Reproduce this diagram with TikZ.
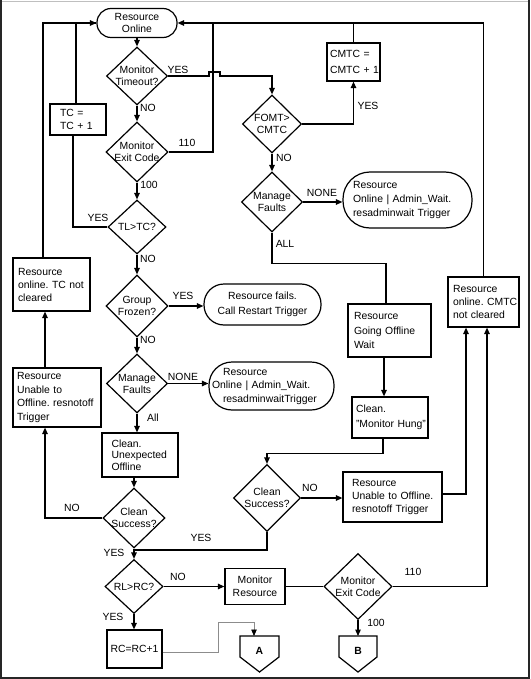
\documentclass[tikz,border=0pt]{standalone}
\usepackage{fontspec}
\setmainfont{Liberation Sans}
\usetikzlibrary{shapes.geometric,arrows.meta}
\begin{document}
\hyphenpenalty=10000 \exhyphenpenalty=10000 \frenchspacing
\begin{tikzpicture}[x=1pt,y=-1pt,
  every node/.style={font=\fontsize{10.4}{13.5}\selectfont, inner sep=0pt},
  ln/.style={line width=1.2pt},
  arr/.style={line width=1.2pt,-{Triangle[length=6.5pt,width=5.5pt]}},
  box/.style={draw,line width=1.2pt,rectangle,align=left,inner ysep=0pt},
  cbox/.style={draw,line width=1.2pt,rectangle,align=center,inner sep=0pt},
  term/.style={draw,line width=1.2pt,rectangle,inner ysep=0pt},
  dia/.style={draw,line width=1.2pt,diamond,inner sep=0pt},
  dt/.style={align=center,font=\fontsize{10.4}{12}\selectfont},
  lab/.style={font=\fontsize{10.4}{12}\selectfont},
  pent/.style={line width=1.2pt},
  fs/.style={font=\fontsize{10.4}{#1}\selectfont},
]
\useasboundingbox (0,0) rectangle (530,679);
% frame
\draw[black!25,line width=0.8pt] (0,1) -- (530,1);
\draw[black!85,line width=2pt] (1,0) -- (1,678.5);
\draw[black!85,line width=2pt] (0,677.5) -- (530,677.5);
\draw[black!85,line width=2pt] (528.5,0) -- (528.5,678.5);

% ---------- main column ----------
\node[term,align=center,inner xsep=0pt,minimum width=80pt,minimum height=29pt,rounded corners=14pt,fs=12] (ro) at (137,23) {Resource\\Online};
\node[dia,minimum width=61pt,minimum height=58pt] (mt) at (137,76) {};
\node[dt] (mt-t) at (mt) {Monitor\\Timeout?};
\node[dia,minimum width=62pt,minimum height=60pt] (mec) at (137,152) {};
\node[dt] (mec-t) at (mec) {Monitor\\Exit Code};
\node[dia,minimum width=58pt,minimum height=54pt] (tl) at (137,227) {};
\node[dt] (tl-t) at (tl) {TL>TC?};
\node[dia,minimum width=62pt,minimum height=62pt] (gf) at (137,306) {};
\node[dt] (gf-t) at (gf) {Group\\Frozen?};
\node[dia,minimum width=61pt,minimum height=59pt] (mf1) at (137,383.5) {};
\node[dt] (mf1-t) at (mf1) {Manage\\Faults};
\node[box,text width=57pt,inner xsep=9.5pt,minimum height=44pt,fs=11.5] (cuo) at (140,455) {Clean.\\Unexpected\\Offline};
\node[dia,minimum width=62pt,minimum height=60pt] (cs1) at (134,518) {};
\node[dt] (cs1-t) at (cs1) {Clean\\Success?};
\node[dia,minimum width=58pt,minimum height=54pt] (rlrc) at (134,586.5) {};
\node[dt] (rlrc-t) at (rlrc) {RL>RC?};
\node[cbox,minimum width=55pt,minimum height=38pt] (rc) at (134.5,649) {RC=RC+1};
\node[cbox,minimum width=60pt,minimum height=36pt,fs=13] (mr) at (255,586.5) {Monitor\\Resource};
\node[dia,minimum width=68pt,minimum height=66pt] (mec2) at (358,586.5) {};
\node[dt] (mec2-t) at (mec2) {Monitor\\Exit Code};

% off-page connectors
\draw[pent] (240,636) -- (279,636) -- (279,657) -- (259.5,672) -- (240,657) -- cycle;
\node[font=\bfseries\fontsize{10.4}{12}\selectfont] (A) at (259.5,651) {A};
\coordinate (Atop) at (254,636);
\draw[pent] (339,636) -- (377,636) -- (377,657) -- (358,672) -- (339,657) -- cycle;
\node[font=\bfseries\fontsize{10.4}{12}\selectfont] (B) at (358,651) {B};
\coordinate (Btop) at (358,636);

% ---------- left boxes ----------
\node[box,text width=36pt,inner xsep=10pt,minimum height=31pt,fs=13] (tc) at (78,119.5) {\mbox{TC =}\\\mbox{TC + 1}};
\node[box,text width=67pt,inner xsep=5pt,minimum height=53pt,fs=13] (rotc) at (51.5,284.5) {Resource\\\mbox{online. TC not}\\cleared};
\node[box,text width=80pt,inner xsep=4pt,minimum height=59pt,fs=13.5] (ruo1) at (57,397.5) {Resource\\\mbox{Unable to}\\\mbox{Offline. resnotoff}\\Trigger};

% ---------- right side ----------
\node[dia,minimum width=59pt,minimum height=58pt] (fomt) at (272,124) {};
\node[dt] (fomt-t) at (fomt) {FOMT>\\CMTC};
\node[box,text width=47pt,inner xsep=3pt,minimum height=38pt,fs=13] (cmtc) at (353.5,62) {\mbox{CMTC =}\\[3pt]\mbox{CMTC + 1}};
\node[dia,minimum width=61pt,minimum height=60pt] (mf2) at (272,202) {};
\node[dt] (mf2-t) at (mf2) {Manage\\Faults};
\node[term,align=left,text width=109pt,inner xsep=10pt,minimum height=56pt,rounded corners=27pt,fs=14] (term2) at (407.5,200) {Resource\\\mbox{Online | Admin\_Wait.}\\\mbox{resadminwait Trigger}};
\node[term,align=center,minimum width=117pt,minimum height=41pt,rounded corners=20pt,fs=15] (rf) at (262.5,304.5) {Resource fails.\\Call Restart Trigger};
\node[term,align=left,text width=119pt,inner xsep=3pt,minimum height=48pt,rounded corners=23pt,fs=13.5] (term3) at (271.5,386) {\hspace*{11pt}Resource\\\mbox{Online | Admin\_Wait.}\\\hspace*{11pt}resadminwaitTrigger};
\node[box,text width=71pt,inner xsep=6pt,minimum height=53pt,fs=14.5] (rgow) at (389.5,330.5) {Resource\\\mbox{Going Offline}\\Wait};
\node[box,text width=68pt,inner xsep=4pt,minimum height=41pt,fs=15] (cmh) at (390,417.5) {Clean.\\\mbox{"Monitor Hung"}};
\node[dia,minimum width=67pt,minimum height=67pt] (cs2) at (267,498) {};
\node[dt] (cs2-t) at (cs2) {Clean\\Success?};
\node[box,text width=81pt,inner xsep=9pt,minimum height=50pt,fs=13] (ruo2) at (392.5,497) {Resource\\\mbox{Unable to Offline.}\\\mbox{resnotoff Trigger}};
\node[box,text width=61pt,inner xsep=5pt,minimum height=50pt,fs=13] (cmtcnc) at (483.5,302) {Resource\\\mbox{online. CMTC}\\\mbox{not cleared}};

% junction coordinates
\coordinate (j110) at (213,23);
\coordinate (jyes) at (134,550);

% ---------- connectors ----------
\draw[arr] (ro.south) -- (mt.north);
\draw[arr] (mt.south) -- (mec.north);
\draw[arr] (mec.south) -- (tl.north);
\draw[arr] (tl.south) -- (gf.north);
\draw[arr] (gf.south) -- (mf1.north);
\draw[arr] (mf1.south) -- (mf1.south |- cuo.north);
\draw[arr] (cs1.north |- cuo.south) -- (cs1.north);
\draw[arr] (cs1.south) -- (rlrc.north);
\draw[arr] (rlrc.south) -- (rlrc.south |- rc.north);
\draw[arr] (rlrc.east) -- (mr.west);
\draw[ln] (mr.east) -- (mec2.west);
\draw[arr] (mec2.south) -- (Btop);
\draw[arr] (mec2.east) -| ([xshift=3.5pt]cmtcnc.south);
\draw[line width=0.8pt,black!45,-{Triangle[length=6.5pt,width=5.5pt,black]}] ([yshift=-3pt]rc.east) -- (218,652) -- (218,622) -| (Atop);

\draw[arr] (cs1.west) -| ([xshift=-12pt]ruo1.south);
\draw[arr] ([xshift=-12pt]ruo1.north) -- ([xshift=-6.5pt]rotc.south);
\draw[arr] ([xshift=-8.5pt]rotc.north) |- (ro.west);
\draw[ln] (tl.west) -| ([xshift=-5pt]tc.south);
\draw[ln] ([xshift=-2pt]tc.north) |- (ro.west);

\draw[ln] (mec.east) -| (j110);
\draw[arr] (cmtcnc.north) |- (ro.east);
\draw[ln] (cmtc.north) -- (cmtc.north |- ro.east);
\draw[arr] (mt.east) -- (209,76) -- (209,72) -- (220,72) -- (220,76) -| (fomt.north);
\draw[arr] (fomt.east) -| (cmtc.south);
\draw[arr] (fomt.south) -- (mf2.north);
\draw[arr] (mf2.east) -- (mf2.east -| term2.west);
\draw[ln] (mf2.south) -- ++(0,31) -| ([xshift=-3.5pt]rgow.north);
\draw[arr] ([xshift=-5.5pt]rgow.south) -- ([xshift=-6pt]cmh.north);
\draw[arr] ([xshift=-7pt]cmh.south) -- ++(0,15) -| (cs2.north);
\draw[arr] (cs2.east) -- (cs2.east -| ruo2.west);
\draw[arr] ([yshift=3pt]ruo2.east) -| ([xshift=-17.5pt]cmtcnc.south);
\draw[ln] (cs2.south) |- (jyes);
\draw[arr] (gf.east) -- (gf.east -| rf.west);
\draw[arr] (mf1.east) -- (mf1.east -| term3.west);

% ---------- connector labels ----------
\node[lab] (l-mt-yes) at (178,70) {YES};
\node[lab] (l-mt-no) at (148,108) {NO};
\node[lab] (l-mec-110) at (187,143) {110};
\node[lab] (l-mec-100) at (149,185) {100};
\node[lab] (l-tl-yes) at (98,218) {YES};
\node[lab] (l-tl-no) at (148,259) {NO};
\node[lab] (l-gf-yes) at (183,296) {YES};
\node[lab] (l-gf-no) at (148,340) {NO};
\node[lab] (l-mf1-none) at (183,377) {NONE};
\node[lab] (l-mf1-all) at (153,418) {All};
\node[lab] (l-cs1-no) at (72,508) {NO};
\node[lab] (l-cs1-yes) at (114,553) {YES};
\node[lab] (l-cs2-yes) at (201,538) {YES};
\node[lab] (l-rl-no) at (178,577) {NO};
\node[lab] (l-rl-yes) at (113,617) {YES};
\node[lab] (l-mec2-110) at (413,572) {110};
\node[lab] (l-mec2-100) at (376,623) {100};
\node[lab] (l-cs2-no) at (310,488) {NO};
\node[lab] (l-fomt-yes) at (368,106) {YES};
\node[lab] (l-fomt-no) at (284,158) {NO};
\node[lab] (l-mf2-none) at (322,193) {NONE};
\node[lab] (l-mf2-all) at (285,244) {ALL};
\end{tikzpicture}
\end{document}
